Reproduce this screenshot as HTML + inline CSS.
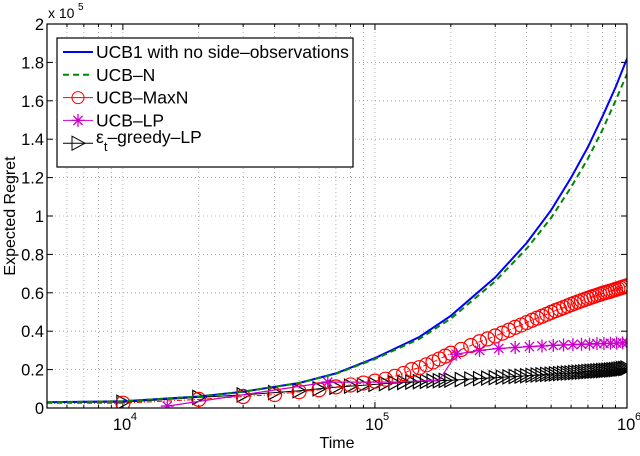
<!DOCTYPE html>
<html><head><meta charset="utf-8"><style>
html,body{margin:0;padding:0;background:#fff;}
svg text{font-family:"Liberation Sans",Arial,sans-serif;fill:#000;}
</style></head><body>
<svg id="chart" width="640" height="451" xmlns="http://www.w3.org/2000/svg"></svg>
<script>
const ucbTimes=[5000,10000,20000,30000,50000,70000,100000,150000,200000,300000,400000,500000,600000,700000,800000,900000,1000000];
const ucb1Values=[0.03,0.035,0.06,0.085,0.13,0.18,0.26,0.37,0.48,0.68,0.86,1.03,1.2,1.36,1.52,1.67,1.82];
const ucbNValues=[0.03,0.035,0.06,0.085,0.13,0.178,0.255,0.36,0.465,0.66,0.83,0.99,1.15,1.3,1.45,1.6,1.74];
const denseTimes=[10000,20000,30000,40000,50000,60000,70000,80000,90000,100000,110000,120000,130000,140000,150000,160000,170000,180000,190000,200000,
220000,240000,260000,280000,300000,320000,340000,360000,380000,400000,420000,440000,460000,480000,500000,520000,540000,560000,580000,600000,
620000,640000,660000,680000,700000,720000,740000,760000,780000,800000,820000,840000,860000,880000,900000,920000,940000,960000,980000,1000000];
const maxNValues=[0.025,0.045,0.06,0.07,0.085,0.095,0.11,0.12,0.13,0.14,0.15,0.165,0.18,0.2,0.21,0.225,0.24,0.255,0.27,0.285,
0.305,0.325,0.345,0.36,0.375,0.39,0.405,0.42,0.432,0.445,0.457,0.468,0.478,0.488,0.498,0.507,0.515,0.523,0.531,0.539,
0.546,0.553,0.559,0.565,0.571,0.577,0.582,0.587,0.592,0.597,0.601,0.605,0.609,0.613,0.617,0.621,0.625,0.629,0.632,0.636];
const greedyValues=[0.03,0.055,0.068,0.08,0.09,0.1,0.108,0.114,0.119,0.123,0.127,0.13,0.133,0.135,0.137,0.139,0.141,0.142,0.144,0.145,
0.148,0.151,0.153,0.156,0.158,0.16,0.162,0.164,0.166,0.168,0.17,0.172,0.173,0.175,0.176,0.178,0.179,0.181,0.182,0.183,
0.185,0.186,0.187,0.188,0.19,0.191,0.192,0.193,0.194,0.195,0.196,0.197,0.198,0.199,0.2,0.202,0.203,0.205,0.206,0.208];
const lpTimes=[15000,65000,120000,180000,210000,260000,310000,360000,410000,460000,510000,560000,610000,660000,710000,760000,810000,860000,910000,960000,1000000];
const lpValues=[0.01,0.135,0.135,0.145,0.28,0.3,0.31,0.315,0.32,0.323,0.326,0.328,0.33,0.332,0.333,0.335,0.336,0.337,0.338,0.339,0.34];
const yTicks=[0,0.2,0.4,0.6,0.8,1,1.2,1.4,1.6,1.8,2];
const yTickLabels=["0","0.2","0.4","0.6","0.8","1","1.2","1.4","1.6","1.8","2"];
const xMajor=[4,5,6];

const L=47,R=627,T=24,B=408,XMIN=Math.log10(5000),XMAX=6;
const NS="http://www.w3.org/2000/svg";
const svg=document.getElementById('chart');
function X(t){return L+(Math.log10(t)-XMIN)/(XMAX-XMIN)*(R-L);}
function Y(v){return B-v/2*(B-T);}
function el(tag,attrs,parent){const e=document.createElementNS(NS,tag);for(const k in attrs)e.setAttribute(k,attrs[k]);(parent||svg).appendChild(e);return e;}

const grid=el('g',{});


const ticks=el('g',{stroke:'#000','stroke-width':1});


for(let d=3;d<=5;d++){for(let m=1;m<=9;m++){const t=m*Math.pow(10,d);if(t<5000||t>1e6)continue;const x=X(t);
 if(x>L+1&&x<R-1){el('line',{x1:x,x2:x,y1:T,y2:B,stroke:'#999','stroke-width':0.8,'stroke-dasharray':'1,3'},grid);}
 const len=m===1?6:3;el('line',{x1:x,x2:x,y1:B,y2:B-len},ticks);el('line',{x1:x,x2:x,y1:T,y2:T+len},ticks);}}
yTicks.forEach((v,i)=>{const y=Y(v);
 if(i>0&&i<yTicks.length-1)el('line',{x1:L,x2:R,y1:y,y2:y,stroke:'#999','stroke-width':0.8,'stroke-dasharray':'1,3'},grid);
 el('line',{x1:L,x2:L+6,y1:y,y2:y},ticks);el('line',{x1:R,x2:R-6,y1:y,y2:y},ticks);
 const tx=el('text',{x:L-3,y:y+6,'text-anchor':'end','font-size':16.5});tx.textContent=yTickLabels[i];
 
 });
xMajor.forEach(p=>{const x=X(Math.pow(10,p));
 const tx=el('text',{x:x-10,y:430,'font-size':16.5});tx.textContent='10';
 
 
 const sp=el('text',{x:x+8,y:420,'font-size':11});sp.textContent=String(p);});

function path(ts,vs){return ts.map((t,i)=>(i?'L':'M')+X(t).toFixed(1)+','+Y(vs[i]).toFixed(1)).join('');}
const clip=el('clipPath',{id:'pc'});el('rect',{x:L,y:T,width:R-L,height:B-T},clip);
const plot=el('g',{'clip-path':'url(#pc)'});



const gl=el('path',{d:path([5000].concat(denseTimes),[0.03].concat(greedyValues)),fill:'none',stroke:'#000','stroke-width':1},plot);


denseTimes.forEach((t,i)=>{const x=X(t),y=Y(greedyValues[i]);const m=el('path',{d:`M${x-6},${y-7}L${x+7},${y}L${x-6},${y+7}Z`,fill:'none',stroke:'#000','stroke-width':1.2},plot);
 
 });
const rl=el('path',{d:path([5000].concat(denseTimes),[0.025].concat(maxNValues)),fill:'none',stroke:'#f00','stroke-width':1,'stroke-dasharray':'5,2,1,2'},plot);


denseTimes.forEach((t,i)=>{const m=el('circle',{cx:X(t),cy:Y(maxNValues[i]),r:7,fill:'none',stroke:'#f00','stroke-width':1.2},plot);
 
 });
const ml=el('path',{d:path(lpTimes,lpValues),fill:'none',stroke:'#c0c','stroke-width':1.2},plot);


function star(x,y,g,c){const s=6.5;el('path',{d:`M${x-s},${y}H${x+s}M${x},${y-s}V${y+s}M${x-4.6},${y-4.6}L${x+4.6},${y+4.6}M${x-4.6},${y+4.6}L${x+4.6},${y-4.6}`,stroke:c,'stroke-width':1.3,fill:'none'},g);}
lpTimes.forEach((t,i)=>{if(t===120000||t===180000)return;const g=el('g',{},plot);
 
 
 star(X(t),Y(lpValues[i]),g,'#c0c');});
const bl=el('path',{d:path(ucbTimes,ucb1Values),fill:'none',stroke:'#00f','stroke-width':2},plot);


const nl=el('path',{d:path(ucbTimes,ucbNValues),fill:'none',stroke:'#080','stroke-width':2,'stroke-dasharray':'6,4'},plot);



el('rect',{x:L,y:T,width:R-L,height:B-T,fill:'none',stroke:'#000','stroke-width':1.2});
const lg=el('g',{});


el('rect',{x:57,y:38,width:296,height:129,fill:'#fff',stroke:'#000','stroke-width':1.2},lg);
const items=[['UCB1 with no side-observations','#00f',''],['UCB-N','#080','6,4'],['UCB-MaxN','#f00',''],['UCB-LP','#c0c',''],['εt-greedy-LP','#000','']];
items.forEach((it,i)=>{const y=52+i*22.8;
 el('line',{x1:63,x2:93,y1:y,y2:y,stroke:it[1],'stroke-width':i<2?2:1,'stroke-dasharray':it[2]},lg);
 if(i===2)el('circle',{cx:78,cy:y,r:6,fill:'none',stroke:'#f00'},lg);
 if(i===3)star(78,y,lg,'#c0c');
 if(i===4)el('path',{d:`M72,${y-7}L85,${y}L72,${y+7}Z`,fill:'none',stroke:'#000'},lg);
 const tx=el('text',{x:96,y:y+6,'font-size':17.5},lg);
 
 
 if(i===4){tx.setAttribute('y',y);tx.innerHTML='ε<tspan dy="8" font-size="13">t</tspan><tspan dy="-8">–greedy–LP</tspan>';}
 else tx.textContent=it[0].replace(/-/g,'–');});

const ex=el('text',{x:48,y:18,'font-size':14});ex.textContent='x 10';


const ex2=el('text',{x:78,y:10,'font-size':10});ex2.textContent='5';
const xt=el('text',{x:337,y:448,'text-anchor':'middle','font-size':16});xt.textContent='Time';


const yt=el('text',{x:0,y:0,'text-anchor':'middle','font-size':16,transform:'translate(15,216) rotate(-90)'});yt.textContent='Expected Regret';


</script>
</body></html>
